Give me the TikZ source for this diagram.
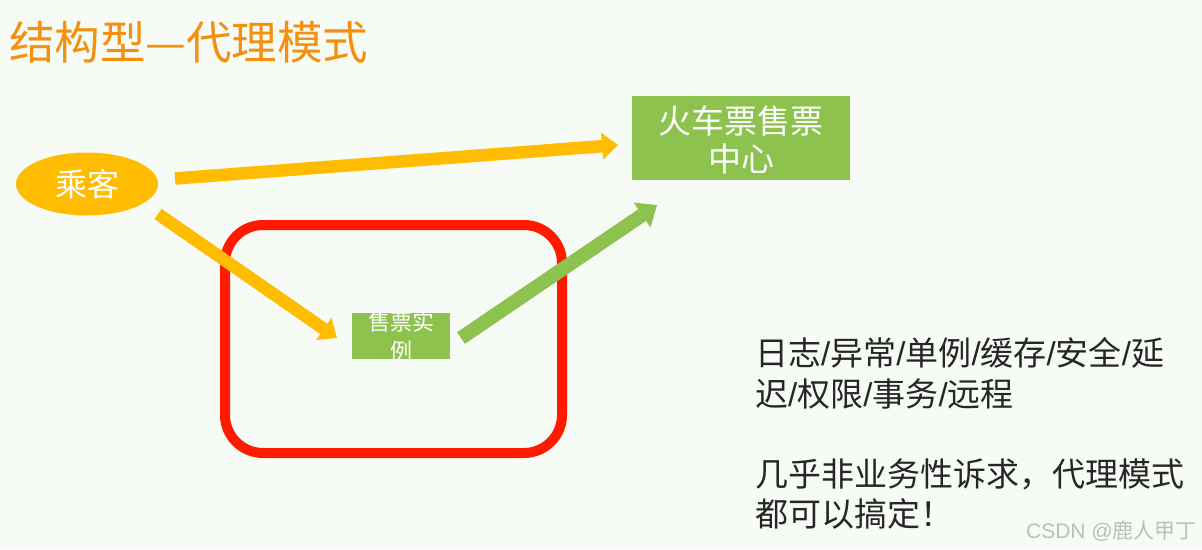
\documentclass[tikz,border=0pt]{standalone}
\usepackage{fontspec}
\setmainfont{Noto Sans CJK SC}
\newfontfamily\slashfont{Liberation Sans}
\newcommand{\slsep}{{\slashfont /}}
\usetikzlibrary{arrows.meta,shapes.geometric}
\definecolor{bgc}{HTML}{F7FBF5}
\definecolor{gold}{HTML}{FFBC00}
\definecolor{leaf}{HTML}{8DC24F}
\definecolor{boxred}{HTML}{FF1A00}
\definecolor{titleor}{HTML}{F5900F}
\definecolor{txt}{HTML}{262626}
\definecolor{wm}{HTML}{BDBDBD}
\tikzset{
  yarrow/.style={draw=gold, line width=12.5pt, line cap=butt,
    -{Triangle[width=27pt,length=16pt,fill=gold,line width=0pt]}},
  garrow/.style={draw=leaf, line width=14pt, line cap=butt,
    -{Triangle[width=30pt,length=18pt,fill=leaf,line width=0pt]}},
  greenbox/.style={fill=leaf, draw=none, inner sep=0pt},
  wtext/.style={text=white, align=center, inner sep=0pt},
  sidetext/.style={text=txt, anchor=west, inner sep=0pt, font=\fontsize{33}{33}\selectfont},
}
\begin{document}
\begin{tikzpicture}[x=1pt,y=-1pt]
\fill[bgc] (0,0) rectangle (1202,549);
\useasboundingbox (0,0) rectangle (1202,549);

% title
\node[anchor=west, inner sep=0pt, text=titleor, font=\fontsize{45.5}{45.5}\selectfont] (title) at (9,42) {结构型—代理模式};

% passenger ellipse
\node[ellipse, fill=gold, minimum width=142pt, minimum height=63pt, inner sep=0pt] (pass) at (87,184) {};
\node[wtext, font=\fontsize{32}{32}\selectfont] (passt) at (87,184) {乘客};

% ticket center box
\node[greenbox, minimum width=218pt, minimum height=84pt] (center) at (741,138) {};
\node[wtext, font=\fontsize{33}{38}\selectfont] (centert) at (741,140) {火车票售票\\中心};

% red rounded frame
\draw[boxred, line width=10pt, rounded corners=38pt] (225,225) rectangle (562,453);

% proxy box
\node[greenbox, minimum width=98pt, minimum height=46pt] (proxy) at (401,336) {};
\node[wtext, font=\fontsize{22}{29}\selectfont] (proxyt) at (401,337) {售票实\\例};

% arrow end points
\coordinate (a1s) at (175,178.5);
\coordinate (a1e) at (618,145);
\coordinate (a2s) at (158,214);
\coordinate (a2e) at (337,338);
\coordinate (a3s) at (461,338);
\coordinate (a3e) at (657,205);

\draw[yarrow] (a1s) -- (a1e);
\draw[yarrow] (a2s) -- (a2e);
\draw[garrow] (a3s) -- (a3e);

% side text
\node[sidetext] (l1) at (755,353) {日志\slsep 异常\slsep 单例\slsep 缓存\slsep 安全\slsep 延};
\node[sidetext] (l2) at (755,394) {迟\slsep 权限\slsep 事务\slsep 远程};
\node[sidetext] (l3) at (755,474) {几乎非业务性诉求，代理模式};
\node[sidetext] (l4) at (755,514) {都可以搞定！};

% watermark
\node[anchor=east, inner sep=0pt, text=wm, font=\fontsize{21}{21}\selectfont] (wmark) at (1197,531) {{\slashfont CSDN @}鹿人甲丁};
\end{tikzpicture}
\end{document}
